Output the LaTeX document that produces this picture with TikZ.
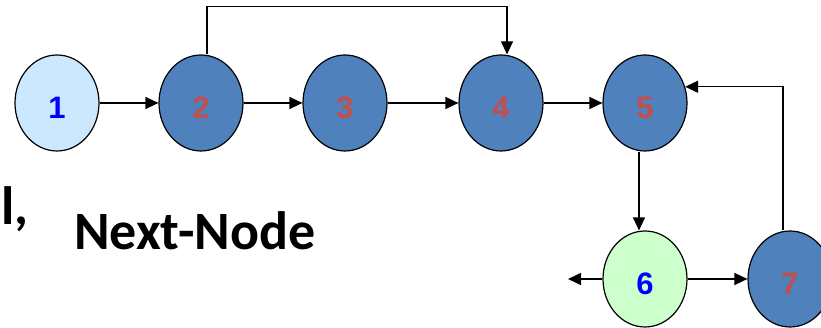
\documentclass[tikz,border=0pt]{standalone}
\usepackage{fontspec}
\setmainfont{Liberation Sans}
\newfontfamily\calibri{Carlito}
\usetikzlibrary{shapes.geometric,arrows.meta}

\definecolor{darkblue}{HTML}{4F81BD}
\definecolor{lightblue}{HTML}{CCE8FF}
\definecolor{lightgreen}{HTML}{CCFFCC}
\definecolor{numred}{HTML}{C0504D}

\begin{document}
\begin{tikzpicture}[x=1pt,y=1pt,
  vertex/.style={ellipse,draw,line width=1.2pt,minimum width=84pt,minimum height=96pt,inner sep=0pt,
    font=\fontsize{31}{31}\selectfont\bfseries,text height=32pt,text depth=0pt},
  link/.style={line width=1.6pt,-{Triangle[length=13pt,width=12pt]}},
  loop/.style={line width=1.1pt,-{Triangle[length=13pt,width=12pt]}},
  caption/.style={font=\calibri\fontsize{54}{60}\selectfont\bfseries,inner sep=0pt}]
\useasboundingbox (0,0) rectangle (821,328);
% first row
\node [vertex,fill=lightblue,text=blue] (a) at (57,225) {1};
\node [vertex,fill=darkblue,text=numred] (b) at (201,225) {2};
\node [vertex,fill=darkblue,text=numred] (c) at (345,225) {3};
\node [vertex,fill=darkblue,text=numred] (d) at (501,225) {4};
\node [vertex,fill=darkblue,text=numred] (e) at (645,225) {5};
% second row
\node [vertex,fill=lightgreen,text=blue] (f) at (645,49) {6};
\node [vertex,fill=darkblue,text=numred] (g) at (790,49) {7};
\coordinate (h) at (568,49);

\draw [link] (a) -- (b);
\draw [link] (b) -- (c);
\draw [link] (c) -- (d);
\draw [link] (d) -- (e);
\draw [link] ([xshift=-6pt]e.south) -- ([xshift=-6pt]f.north);
\draw [link] (f) -- (g);
\draw [link] (f) -- (h);
\draw [loop] ([xshift=6pt]b.north) -- ++(0,48) -| ([xshift=6pt]d.north);
\draw [loop] ([xshift=-7pt]g.north) |- (e.22);

\node [caption,anchor=base west] (next) at (74,78) {Next-Node};
\node [caption,anchor=base east] (cut) at (29,103) {l,};
\end{tikzpicture}
\end{document}
